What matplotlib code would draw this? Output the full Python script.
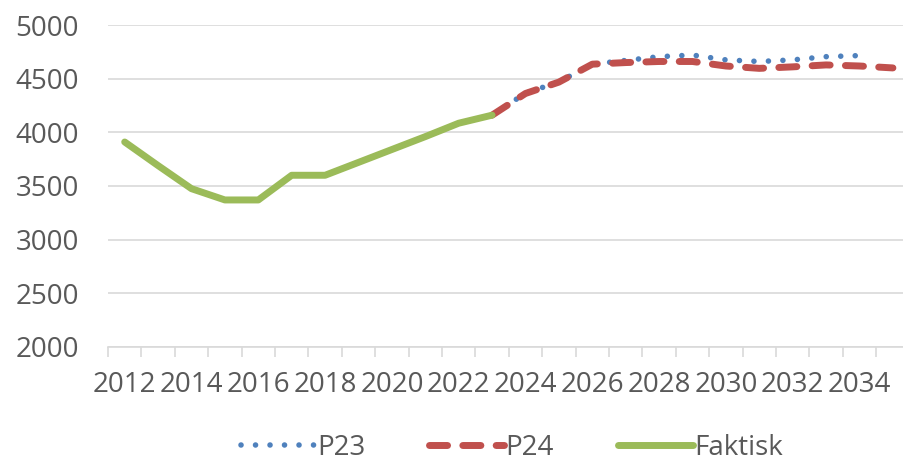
import numpy as np
import matplotlib
matplotlib.use("Agg")
import matplotlib.pyplot as plt

plt.rcParams['font.family'] = ['Open Sans', 'DejaVu Sans']

years = list(range(2012, 2036))
nan = np.nan

# Faktisk (actual)
faktisk = [3910, 3690, 3475, 3370, 3370, 3600, 3600, 3720, 3840, 3960, 4085, 4160,
           nan, nan, nan, nan, nan, nan, nan, nan, nan, nan, nan, nan]
# Prognose P23
p23 = [nan] * 11 + [4160, 4365, 4470, 4635, 4670, 4705, 4720, 4675, 4660, 4675, 4705, 4715, nan]
# Prognose P24
p24 = [nan] * 11 + [4160, 4362, 4468, 4635, 4650, 4660, 4660, 4618, 4596, 4610, 4628, 4618, 4600]

text_col = '#595959'
grid_col = '#d9d9d9'

fig = plt.figure(figsize=(9.04, 4.63), dpi=100)
ax = fig.add_axes([108 / 904, 1 - 347 / 463, 801.6 / 904, 322 / 463])

x = np.arange(len(years))
ax.plot(x, p23, color='#4f81bd', lw=4, linestyle=(0, (0.01, 2.6)),
        dash_capstyle='round', solid_capstyle='round', label='P23', zorder=3)
ax.plot(x, p24, color='#c0504d', lw=5, linestyle=(0, (2.6, 2.2)),
        dash_capstyle='round', solid_capstyle='round', label='P24', zorder=4)
ax.plot(x, faktisk, color='#9bbb59', lw=5, solid_capstyle='round',
        solid_joinstyle='round', label='Faktisk', zorder=5)

ax.set_xlim(-0.5, len(years) - 0.5)
ax.set_ylim(2000, 5000)
ax.set_yticks(range(2000, 5001, 500))
ax.yaxis.grid(True, color=grid_col, lw=1.2)
ax.set_axisbelow(True)

ax.set_xticks(x[::2])
ax.set_xticklabels([str(y) for y in years[::2]])
ax.set_xticks(np.arange(-0.5, len(years), 1), minor=True)
ax.tick_params(axis='x', which='major', length=0, pad=17, labelsize=20, labelcolor=text_col)
ax.tick_params(axis='x', which='minor', length=7, width=1.2, color=grid_col)
ax.tick_params(axis='y', length=0, pad=21, labelsize=20, labelcolor=text_col)

for s in ['top', 'right', 'left']:
    ax.spines[s].set_visible(False)
ax.spines['bottom'].set_color(grid_col)
ax.spines['bottom'].set_linewidth(1.2)

fig.legend(loc='center', bbox_to_anchor=(0.566, 1 - 448 / 463), ncol=3, frameon=False,
           fontsize=20, labelcolor=text_col, handlelength=2.7, handletextpad=0.05,
           columnspacing=2.3)

fig.savefig('out.png', dpi=100)
